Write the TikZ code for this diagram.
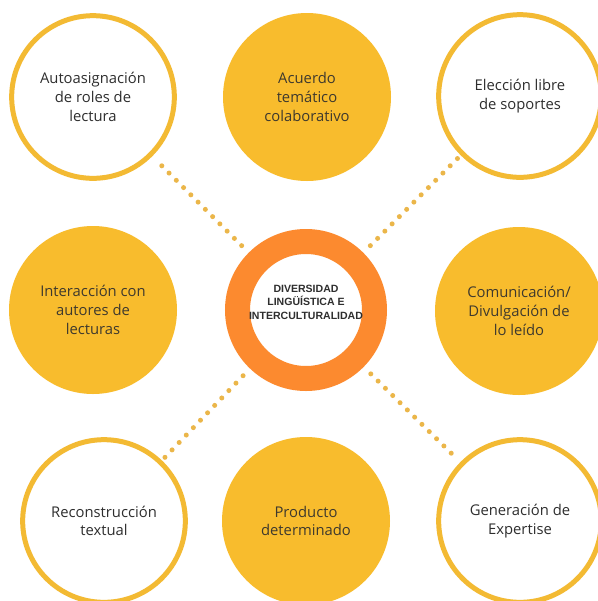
\documentclass[tikz,border=0pt]{standalone}
\usepackage{fontspec}
\newfontfamily\textofont{Open Sans}
\newfontfamily\centrofont{Liberation Sans}
\definecolor{amarillo}{HTML}{F8BC2D}
\definecolor{borde}{HTML}{F3BA33}
\definecolor{naranja}{HTML}{FC8A2F}
\definecolor{punto}{HTML}{EBB649}
\definecolor{tinta}{HTML}{2E2E2E}
\tikzset{
    hueco/.style={circle, draw=borde, line width=3.75pt, fill=white, minimum size=122pt,
        align=center, text=tinta, font=\textofont\fontsize{11.1}{14}\selectfont},
    lleno/.style={circle, fill=amarillo, minimum size=126pt,
        align=center, text=tinta!92!amarillo, font=\textofont\fontsize{11.1}{14}\selectfont},
    anillo/.style={circle, draw=naranja, line width=18.75pt, fill=white, minimum size=102.75pt},
    lema/.style={align=center, text=tinta, font=\centrofont\bfseries\fontsize{7.9}{10.2}\selectfont},
    puntos/.style={draw=punto, line width=3.75pt, line cap=round,
        dash pattern=on 0pt off 7.7pt, shorten <=7.5pt, shorten >=3pt}
}
\begin{document}
\begin{tikzpicture}[x=0.75pt, y=-0.75pt]
    \useasboundingbox[fill=white] (0,0) rectangle (598,601);
    \node[hueco] (tl) at (93,97) {Autoasignación\\de roles de\\lectura};
    \node[lleno] (tm) at (307,97) {Acuerdo\\temático\\colaborativo};
    \node[hueco] (tr) at (520,96) {Elección libre\\de soportes};
    \node[lleno] (ml) at (93,310) {Interacción con\\autores de\\lecturas};
    \node[anillo] (centro) at (306,310) {};
    \node[lema] (tema) at (306,302) {DIVERSIDAD\\LINGÜÍSTICA E\\INTERCULTURALIDAD};
    \node[lleno] (mr) at (519,311) {Comunicación/\\Divulgación de\\lo leído};
    \node[hueco] (bl) at (104,521) {Reconstrucción\\textual};
    \node[lleno] (bm) at (306,521) {Producto\\determinado};
    \node[hueco] (br) at (520,521) {Generación de\\Expertise};
    \foreach \esquina in {tl,tr,bl,br} {
        \draw[puntos] (centro) -- (\esquina);
    }
\end{tikzpicture}
\end{document}
